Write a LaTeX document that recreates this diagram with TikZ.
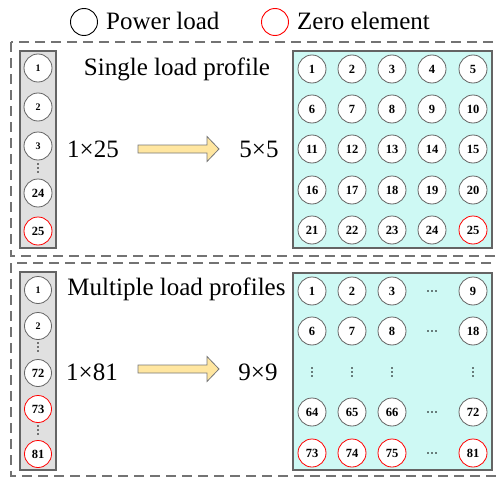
\documentclass[tikz,border=0pt]{standalone}
\usepackage{fontspec}
\setmainfont{Liberation Serif}
\definecolor{bordergray}{RGB}{100,100,100}
\definecolor{dashgray}{RGB}{115,115,115}
\definecolor{colgray}{RGB}{224,224,224}
\definecolor{cyanfill}{RGB}{206,249,244}
\definecolor{arrowfill}{RGB}{255,230,160}
\definecolor{arrowline}{RGB}{120,120,120}
\begin{document}
\begin{tikzpicture}[x=1pt,y=-1pt,
  every node/.style={inner sep=0pt},
  cell/.style={circle, draw=bordergray, line width=0.8pt, fill=white, minimum size=28pt,
    font=\fontsize{12.5}{12.5}\selectfont\bfseries},
  zcell/.style={cell, draw=red},
  tcell/.style={cell, font=\fontsize{10}{10}\selectfont\bfseries},
  scell/.style={cell, minimum size=27pt},
  stcell/.style={scell, font=\fontsize{10}{10}\selectfont\bfseries},
  szcell/.style={scell, draw=red},
  big/.style={font=\fontsize{25}{30}\selectfont, anchor=base},
  dashbox/.style={draw=dashgray, line width=1.4pt, dash pattern=on 10pt off 6pt},
  colbox/.style={draw=bordergray, line width=1.4pt, fill=colgray},
  matbox/.style={draw=bordergray, line width=1.4pt, fill=cyanfill},
  fatarrow/.style={draw=arrowline, line width=0.8pt, fill=arrowfill},
  legcirc/.style={circle, line width=0.9pt, minimum size=27pt}
]
\useasboundingbox (0,0) rectangle (496,479);

% legend
\node[legcirc, draw=black] (legP) at (84,22) {};
\node[big, anchor=base west] (legPt) at (106,30) {Power load};
\node[legcirc, draw=red] (legZ) at (275,22) {};
\node[big, anchor=base west] (legZt) at (297,30) {Zero element};

% dashed frames
\draw[dashbox] (11,42) rectangle (510,256);
\draw[dashbox] (11,263) rectangle (510,476);

% ===== top panel =====
\draw[colbox] (20,51) rectangle (56,248);
\node[tcell] (a1) at (38,68) {1};
\node[tcell] (a2) at (38,107) {2};
\node[tcell] (a3) at (38,146) {3};
\node[cell] (a24) at (38,193) {24};
\node[zcell] (a25) at (38,231) {25};
\foreach \yy in {164,168,172} \fill (38,\yy) circle (0.9pt);

\node[big] (t1) at (177,75) {Single load profile};
\node[big] (s1) at (93,157) {1×25};
\node[big] (s2) at (259,157) {5×5};
\draw[fatarrow] (138,145) -- (207,145) -- (207,136.5) -- (219,149) -- (207,161.5) -- (207,153) -- (138,153) -- cycle;

\draw[matbox] (293,51) rectangle (492,248);
\foreach \r/\yy in {0/69,1/109,2/149,3/190,4/230}{
  \foreach \c/\xx in {1/312,2/352,3/392,4/432,5/473}{
    \pgfmathtruncatemacro{\n}{\r*5+\c}
    \ifnum\n=25
      \node[zcell] (b\n) at (\xx,\yy) {\n};
    \else
      \node[cell] (b\n) at (\xx,\yy) {\n};
    \fi
  }
}

% ===== bottom panel =====
\draw[colbox] (20,272) rectangle (56,470);
\node[stcell] (c1) at (38,290) {1};
\node[stcell] (c2) at (38,326) {2};
\node[scell] (c72) at (38,373) {72};
\node[szcell] (c73) at (38,409) {73};
\node[szcell] (c81) at (38,454) {81};
\foreach \yy in {343,347,351} \fill (38,\yy) circle (0.9pt);
\foreach \yy in {426,430,434} \fill (38,\yy) circle (0.9pt);

\node[big] (t2) at (176.5,295) {Multiple load profiles};
\node[big] (s3) at (92,380) {1×81};
\node[big] (s4) at (258,380) {9×9};
\draw[fatarrow] (138,365) -- (207,365) -- (207,356.5) -- (219,369) -- (207,381.5) -- (207,373) -- (138,373) -- cycle;

\draw[matbox] (293,273) rectangle (492,470);
\node[cell] (d1) at (312,291) {1};
\node[cell] (d2) at (352,291) {2};
\node[cell] (d3) at (392,291) {3};
\node[cell] (d9) at (473,291) {9};
\node[cell] (d6) at (312,331) {6};
\node[cell] (d7) at (352,331) {7};
\node[cell] (d8) at (392,331) {8};
\node[cell] (d18) at (473,331) {18};
\node[cell] (d64) at (312,412) {64};
\node[cell] (d65) at (352,412) {65};
\node[cell] (d66) at (392,412) {66};
\node[cell] (d72) at (473,412) {72};
\node[zcell] (d73) at (312,453) {73};
\node[zcell] (d74) at (352,453) {74};
\node[zcell] (d75) at (392,453) {75};
\node[zcell] (d81) at (473,453) {81};
\foreach \yy in {291,331,412,453}{
  \foreach \xx in {428,432,436} \fill (\xx,\yy) circle (0.9pt);
}
\foreach \xx in {312,352,392,473}{
  \foreach \yy in {368,372,376} \fill (\xx,\yy) circle (0.9pt);
}
\end{tikzpicture}
\end{document}
